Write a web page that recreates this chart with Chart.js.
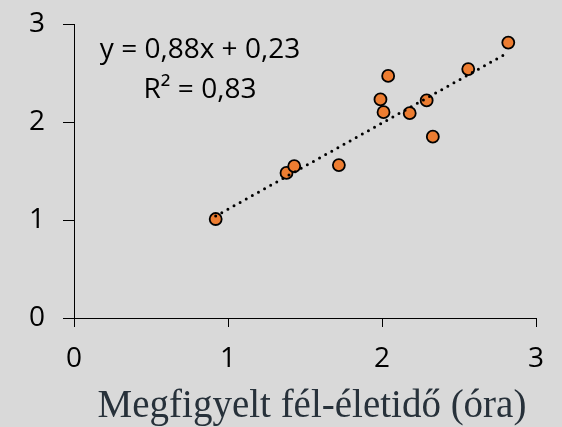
<!DOCTYPE html>
<html lang="hu">
<head>
    <meta charset="UTF-8">
    <title>Felezési idő – szórásdiagram</title>
    <script src="https://cdn.jsdelivr.net/npm/chart.js"></script>
    <style>
        html, body {
            margin: 0;
            padding: 0;
            background: #d9d9d9;
        }
        .wrap {
            width: 562px;
            height: 427px;
        }
    </style>
</head>
<body>
    <div class="wrap">
        <canvas id="chart" width="562" height="427"></canvas>
    </div>

    <script>
        // measured points (observed vs predicted half-life)
        const obsX = [0.92, 1.38, 1.43, 1.72, 1.99, 2.01, 2.04, 2.18, 2.29, 2.33, 2.56, 2.82];
        const predY = [1.01, 1.48, 1.55, 1.56, 2.23, 2.10, 2.47, 2.09, 2.22, 1.85, 2.54, 2.81];

        // trendline ends as drawn in the picture
        const trendX = [0.92, 2.82];
        const trendY = [1.04, 2.71];

        const axisTicks = [0, 1, 2, 3];
        const equationLines = ['y = 0,88x + 0,23', 'R² = 0,83'];
        const xTitle = 'Megfigyelt fél-életidő (óra)';

        const points = obsX.map((x, i) => ({ x: x, y: predY[i] }));
        const trend = trendX.map((x, i) => ({ x: x, y: trendY[i] }));

        // equation label + axis title
        const labelsPlugin = {
            id: 'labels',
            afterDraw(chart) {
                const ctx = chart.ctx;
                ctx.save();
                ctx.fillStyle = '#000';
                ctx.font = '28px "Open Sans", sans-serif';
                ctx.textAlign = 'center';
                ctx.textBaseline = 'alphabetic';
                ctx.fillText(equationLines[0], 200, 58);
                ctx.fillText(equationLines[1], 200, 98);

                ctx.fillStyle = '#27313a';
                ctx.font = '39px "Liberation Serif", serif';
                ctx.fillText(xTitle, 312, 417);
                ctx.restore();
            }
        };

        const ctx = document.getElementById('chart').getContext('2d');
        new Chart(ctx, {
            type: 'scatter',
            data: {
                datasets: [
                    {
                        label: 'Mért',
                        data: points,
                        backgroundColor: '#ed7d31',
                        borderColor: '#000',
                        borderWidth: 1.8,
                        pointRadius: 6,
                        order: 1
                    },
                    {
                        label: 'Trend',
                        type: 'line',
                        data: trend,
                        borderColor: '#000',
                        borderWidth: 3,
                        borderDash: [0, 7],
                        borderCapStyle: 'round',
                        pointRadius: 0,
                        fill: false,
                        order: 0
                    }
                ]
            },
            options: {
                responsive: false,
                animation: false,
                layout: {
                    padding: { left: 0, right: 26, top: 24, bottom: 0 }
                },
                plugins: {
                    legend: { display: false },
                    tooltip: { enabled: false }
                },
                scales: {
                    x: {
                        type: 'linear',
                        min: 0,
                        max: 3,
                        afterBuildTicks: s => { s.ticks = axisTicks.map(v => ({ value: v })); },
                        afterFit: s => {
                            s.height = 109;
                            s.paddingLeft = 0;
                            s.paddingRight = 0;
                        },
                        grid: {
                            drawOnChartArea: false,
                            drawTicks: true,
                            tickLength: 9,
                            color: '#000'
                        },
                        border: { display: true, color: '#000', width: 1 },
                        ticks: {
                            color: '#000',
                            padding: 15,
                            font: { family: '"Open Sans", sans-serif', size: 28 }
                        }
                    },
                    y: {
                        type: 'linear',
                        min: 0,
                        max: 3,
                        afterBuildTicks: s => { s.ticks = axisTicks.map(v => ({ value: v })); },
                        afterFit: s => {
                            s.width = 74;
                            s.paddingTop = 0;
                            s.paddingBottom = 0;
                        },
                        grid: {
                            drawOnChartArea: false,
                            drawTicks: true,
                            tickLength: 11,
                            color: '#000'
                        },
                        border: { display: true, color: '#000', width: 1 },
                        ticks: {
                            color: '#000',
                            padding: 18,
                            font: { family: '"Open Sans", sans-serif', size: 28 }
                        }
                    }
                }
            },
            plugins: [labelsPlugin]
        });
    </script>
</body>
</html>
